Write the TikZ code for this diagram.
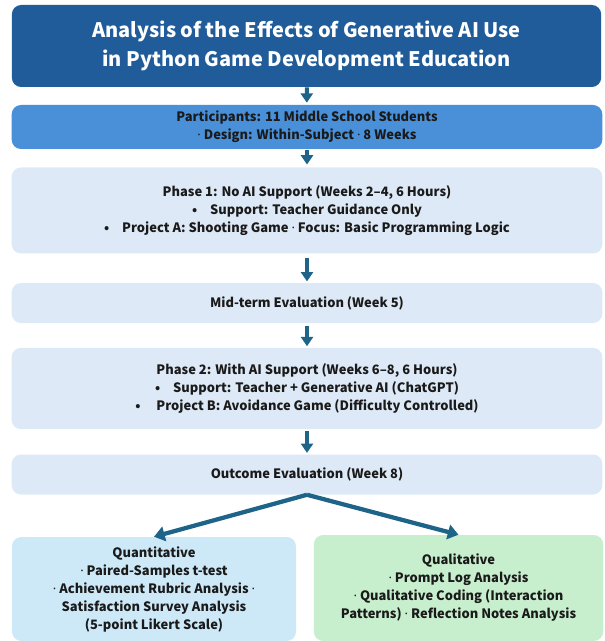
\documentclass[tikz,border=0pt]{standalone}
\usepackage{fontspec}
\setmainfont{Noto Sans CJK KR}
\newfontfamily\dotfont{Noto Sans}
\usetikzlibrary{arrows.meta}

\definecolor{titleblue}{HTML}{1F5C99}
\definecolor{infoblue}{HTML}{4A90D9}
\definecolor{stepblue}{HTML}{DDE9F6}
\definecolor{quantblue}{HTML}{CDE9F8}
\definecolor{qualgreen}{HTML}{C8EFCD}
\definecolor{arrowteal}{HTML}{1D6488}
\definecolor{inkdark}{HTML}{1A1A1A}

\newcommand{\mdot}{{\dotfont ·}}

\begin{document}
\begin{tikzpicture}[x=0.75pt,y=-0.75pt,
  font=\bfseries\fontsize{9.7}{13.5}\selectfont,
  box/.style={rounded corners=7pt, align=center, text=inkdark, inner sep=0pt},
  flow/.style={arrowteal, line width=3pt, -{Triangle[width=9pt,length=7pt]}},
  branch/.style={arrowteal, line width=3.2pt, -{Triangle[width=11pt,length=8pt]}}]

  \useasboundingbox (0,0) rectangle (604,641);

  \node (title) at (306.5,46) [box, fill=titleblue, text=white, minimum width=442pt, minimum height=61.5pt,
    font=\bfseries\fontsize{15}{21.5}\selectfont]
    {Analysis of the Effects of Generative AI Use\\ in Python Game Development Education};
  \node (part) at (307,127) [box, fill=infoblue, minimum width=443pt, minimum height=33pt]
    {Participants: 11 Middle School Students\\ \mdot{} Design: Within-Subject \mdot{} 8 Weeks};
  \node (ph1) at (307,210.5) [box, fill=stepblue, minimum width=443pt, minimum height=64.5pt]
    {Phase 1: No AI Support (Weeks 2–4, 6 Hours)\\
     •\quad Support: Teacher Guidance Only\\
     •\quad Project A: Shooting Game \mdot{} Focus: Basic Programming Logic};
  \node (mid) at (307,303) [box, fill=stepblue, minimum width=443pt, minimum height=30pt]
    {Mid-term Evaluation (Week 5)};
  \node (ph2) at (307,388.5) [box, fill=stepblue, minimum width=443pt, minimum height=61pt]
    {Phase 2: With AI Support (Weeks 6–8, 6 Hours)\\
     •\quad Support: Teacher + Generative AI (ChatGPT)\\
     •\quad\ Project B: Avoidance Game (Difficulty Controlled)};
  \node (out) at (307,474.5) [box, fill=stepblue, minimum width=443pt, minimum height=30pt]
    {Outcome Evaluation (Week 8)};
  \node (quant) at (154,589) [box, fill=quantblue, minimum width=213pt, minimum height=78pt]
    {Quantitative\\ \mdot{} Paired-Samples t-test\\ \mdot{} Achievement Rubric Analysis \mdot\\
     Satisfaction Survey Analysis\\ (5-point Likert Scale)};
  \node (qual) at (458.5,588) [box, fill=qualgreen, minimum width=217pt, minimum height=79.5pt]
    {Qualitative\\ \mdot{} Prompt Log Analysis\\ \mdot{} Qualitative Coding (Interaction\\
     Patterns) \mdot{} Reflection Notes Analysis};

  \draw [flow, shorten >=1.5pt] (title) -- (part);
  \draw [flow, shorten <=0.5pt, shorten >=2pt] (part) -- (ph1);
  \draw [flow, shorten <=3pt, shorten >=1pt] (ph1) -- (mid);
  \draw [flow, shorten <=2pt, shorten >=1pt] (mid) -- (ph2);
  \draw [flow, shorten <=1pt, shorten >=1pt] (ph2) -- (out);

  \draw [branch] (out.south) -- (quant.north);
  \draw [branch] (out.south) -- (qual.north);

\end{tikzpicture}
\end{document}
